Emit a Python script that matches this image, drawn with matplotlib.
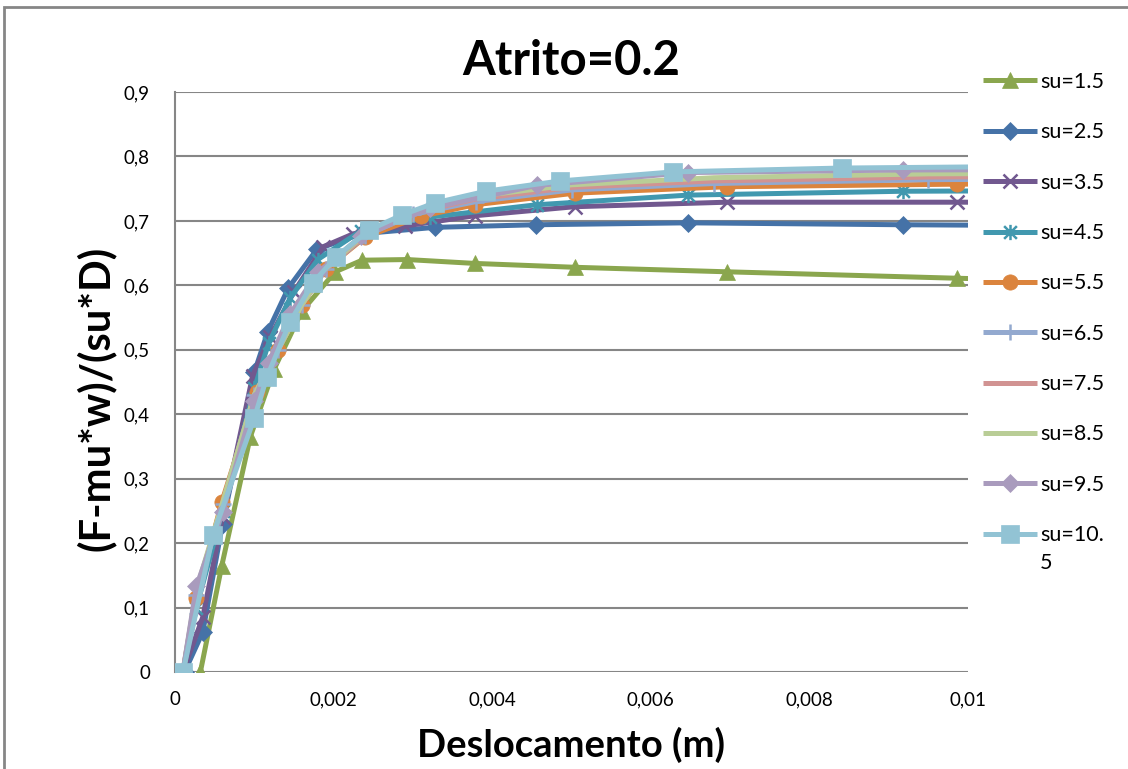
import matplotlib
matplotlib.use("Agg")
import matplotlib.pyplot as plt
from matplotlib.path import Path
from matplotlib.patches import Rectangle
from matplotlib.ticker import FixedLocator, FuncFormatter

plt.rcParams['font.family'] = ['Lato', 'DejaVu Sans']

# ---- data -------------------------------------------------------------
labels = ["su=1.5", "su=2.5", "su=3.5", "su=4.5", "su=5.5",
          "su=6.5", "su=7.5", "su=8.5", "su=9.5", "su=10."]
label_tail = "5"   # wrapped end of the last legend label ("su=10.5")

x_15 = [0.00032, 0.00059, 0.00095, 0.00125, 0.00160, 0.00202, 0.00236, 0.00293, 0.00378, 0.00504, 0.00696, 0.00986, 0.0135]
y_15 = [0.0, 0.165, 0.365, 0.470, 0.560, 0.621, 0.639, 0.640, 0.634, 0.628, 0.621, 0.611, 0.600]

x_25 = [0.00012, 0.00035, 0.00060, 0.00100, 0.00117, 0.00143, 0.00179, 0.00235, 0.00328, 0.00455, 0.00647, 0.00918, 0.0135]
y_25 = [0.0, 0.062, 0.230, 0.465, 0.528, 0.596, 0.656, 0.680, 0.690, 0.694, 0.697, 0.694, 0.691]

x_35 = [0.00010, 0.00035, 0.00060, 0.00098, 0.00120, 0.00150, 0.00187, 0.00225, 0.00290, 0.00378, 0.00504, 0.00696, 0.00986, 0.0135]
y_35 = [0.0, 0.085, 0.240, 0.460, 0.520, 0.590, 0.660, 0.680, 0.692, 0.708, 0.722, 0.729, 0.729, 0.729]

x_45 = [0.00010, 0.00027, 0.00060, 0.00100, 0.00118, 0.00145, 0.00180, 0.00235, 0.00322, 0.00456, 0.00647, 0.00918, 0.0135]
y_45 = [0.0, 0.100, 0.250, 0.440, 0.510, 0.580, 0.640, 0.685, 0.706, 0.725, 0.740, 0.746, 0.748]

x_55 = [0.00010, 0.00027, 0.00059, 0.00103, 0.00130, 0.00160, 0.00190, 0.00240, 0.00310, 0.00378, 0.00504, 0.00696, 0.00986, 0.0135]
y_55 = [0.0, 0.115, 0.264, 0.435, 0.500, 0.570, 0.625, 0.675, 0.707, 0.725, 0.743, 0.753, 0.757, 0.758]

x_65 = [0.00010, 0.00027, 0.00060, 0.00100, 0.00130, 0.00160, 0.00190, 0.00240, 0.00300, 0.00380, 0.00500, 0.00680, 0.00950, 0.0135]
y_65 = [0.0, 0.120, 0.260, 0.430, 0.500, 0.570, 0.625, 0.677, 0.710, 0.730, 0.748, 0.758, 0.764, 0.766]

x_75 = [0.00010, 0.00027, 0.00060, 0.00100, 0.00130, 0.00160, 0.00190, 0.00240, 0.00300, 0.00380, 0.00500, 0.00680, 0.00950, 0.0135]
y_75 = [0.0, 0.125, 0.262, 0.430, 0.500, 0.570, 0.625, 0.678, 0.712, 0.734, 0.752, 0.762, 0.768, 0.770]

x_85 = [0.00010, 0.00027, 0.00060, 0.00100, 0.00130, 0.00160, 0.00190, 0.00240, 0.00300, 0.00380, 0.00500, 0.00680, 0.00950, 0.0135]
y_85 = [0.0, 0.128, 0.263, 0.430, 0.500, 0.570, 0.626, 0.680, 0.715, 0.738, 0.756, 0.767, 0.773, 0.775]

x_95 = [0.00010, 0.00027, 0.00060, 0.00100, 0.00118, 0.00145, 0.00180, 0.00235, 0.00322, 0.00456, 0.00647, 0.00918, 0.0135]
y_95 = [0.0, 0.133, 0.248, 0.420, 0.480, 0.555, 0.620, 0.676, 0.720, 0.755, 0.775, 0.779, 0.780]

x_105 = [0.00010, 0.00048, 0.00100, 0.00116, 0.00145, 0.00174, 0.00203, 0.00245, 0.00286, 0.00328, 0.00392, 0.00486, 0.00628, 0.00841, 0.0113]
y_105 = [0.0, 0.213, 0.394, 0.458, 0.543, 0.604, 0.644, 0.686, 0.709, 0.728, 0.746, 0.762, 0.776, 0.782, 0.785]

xs = [x_15, x_25, x_35, x_45, x_55, x_65, x_75, x_85, x_95, x_105]
ys = [y_15, y_25, y_35, y_45, y_55, y_65, y_75, y_85, y_95, y_105]

x_ticks = [0, 0.002, 0.004, 0.006, 0.008, 0.01]
y_ticks = [0, 0.1, 0.2, 0.3, 0.4, 0.5, 0.6, 0.7, 0.8, 0.9]

# ---- styling ----------------------------------------------------------
colors = ["#8AA64E", "#4572A7", "#71588F", "#4198AF", "#DB843D",
          "#93A9CF", "#D19392", "#B9CD96", "#A99BBD", "#92C3D4"]

# asterisk marker: an x with a vertical bar
ast = Path([(-1, -1), (1, 1), (-1, 1), (1, -1), (0, -1.2), (0, 1.2)],
           [Path.MOVETO, Path.LINETO, Path.MOVETO, Path.LINETO, Path.MOVETO, Path.LINETO])

markers = ['^', 'D', 'x', ast, 'o', '+', None, None, 'D', 's']
msizes = [12, 9, 10, 11, 11, 11, 0, 0, 9, 13]

fig = plt.figure(figsize=(11.28, 7.69), dpi=100)
ax = fig.add_axes([175 / 1128, 1 - 672 / 769, (968 - 175) / 1128, (672 - 92) / 769])

handles = []
for i in range(len(xs)):
    m = markers[i]
    kw = dict(color=colors[i], lw=3.6, solid_capstyle='butt', clip_on=True)
    if m is not None:
        kw.update(marker=m, markersize=msizes[i], markeredgecolor=colors[i])
        if m in ('x', '+') or m is ast:
            kw.update(markerfacecolor='none', markeredgewidth=1.8)
        else:
            kw.update(markerfacecolor=colors[i], markeredgewidth=0.5)
    ln, = ax.plot(xs[i], ys[i], label=labels[i], zorder=3 + i, **kw)
    handles.append(ln)

ax.set_xlim(0, 0.01)
ax.set_ylim(0, 0.9)
ax.xaxis.set_major_locator(FixedLocator(x_ticks))
ax.yaxis.set_major_locator(FixedLocator(y_ticks))

def comma(v, pos):
    if abs(v) < 1e-12:
        return "0"
    s = ("%.3f" % v).rstrip('0').rstrip('.')
    return s.replace('.', ',')

ax.xaxis.set_major_formatter(FuncFormatter(comma))
ax.yaxis.set_major_formatter(FuncFormatter(comma))
ax.tick_params(length=0, labelsize=13.5, colors='black', pad=18)
ax.tick_params(axis='x', pad=14)
ax.grid(axis='y', color='#868686', lw=1.5)
ax.set_axisbelow(True)
for side in ('top', 'right', 'bottom'):
    ax.spines[side].set_visible(False)
ax.spines['left'].set_color('#868686')
ax.spines['left'].set_linewidth(1.5)

fig.text(571 / 1128, 1 - 61 / 769, "Atrito=0.2", ha='center', va='center',
         fontsize=34, fontweight='bold')
fig.text(571 / 1128, 1 - 745 / 769, "Deslocamento (m)", ha='center', va='center',
         fontsize=27.5, fontweight='bold')
fig.text(96 / 1128, 1 - 398 / 769, "(F-mu*w)/(su*D)", ha='center', va='center',
         rotation=90, fontsize=30, fontweight='bold')

leg_fs = 15.5
leg = fig.legend(handles=handles, labels=labels, loc='upper left',
                 bbox_to_anchor=(983 / 1128, 1 - 72 / 769), frameon=False,
                 fontsize=leg_fs, handlelength=2.5, handletextpad=0.14,
                 labelspacing=1.41, borderpad=0, borderaxespad=0)

# wrapped remainder of the last legend label, one line below it
fig.canvas.draw()
renderer = fig.canvas.get_renderer()
last = leg.get_texts()[-1]
bb = last.get_window_extent(renderer)
fig.text(bb.x0 / fig.bbox.width, (bb.y0 - 0.35 * leg_fs * 100 / 72) / fig.bbox.height,
         label_tail, ha='left', va='top', fontsize=leg_fs)

# chart border
fig.patches.append(Rectangle((4 / 1128, -0.1), 1.2, 1.1 - 7 / 769, transform=fig.transFigure,
                             fill=False, edgecolor='#868686', lw=2))

fig.savefig("out.png", dpi=100)
